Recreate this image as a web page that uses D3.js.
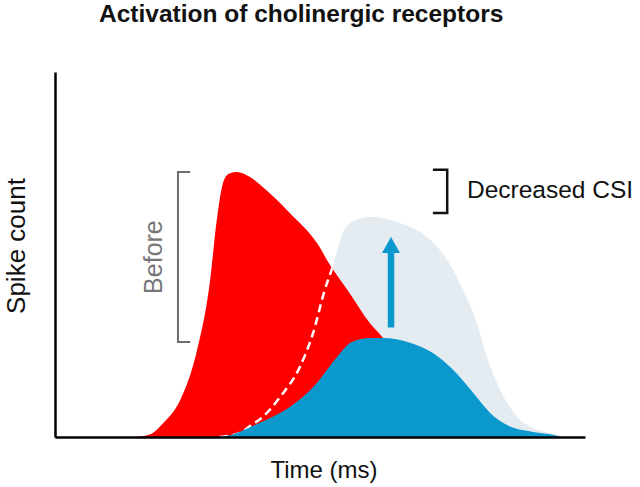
<!DOCTYPE html>
<html>
<head>
<meta charset="utf-8">
<script src="https://cdn.jsdelivr.net/npm/d3@7"></script>
<style>
  html, body { margin: 0; padding: 0; background: #fff; }
  svg { display: block; font-family: "Liberation Sans", Arial, sans-serif; }
</style>
</head>
<body>
<svg id="chart" width="640" height="487"></svg>
<script>
// ---- data (time in arbitrary units 0-100, spike count in arbitrary units 0-100) ----
const beforeTime  = [15.2, 17.9, 20.4, 23.6, 26.8, 29.2, 30.6, 31.7, 32.8, 34.3, 36.8, 39.2, 44.3, 49.4, 51.9, 55.7, 59.4, 61.9, 67.0, 72.6];
const beforeCount = [0, 0.7, 3.8, 10.1, 23.8, 42.2, 60.3, 69.6, 72.1, 72.6, 71.2, 68.5, 61.4, 53.2, 47.1, 39.2, 31.2, 27.1, 15.6, 0];

const afterTime  = [30.2, 33.0, 36.8, 40.6, 44.3, 49.4, 53.2, 56.0, 59.4, 61.9, 67.0, 71.3, 75.1, 78.9, 82.1, 85.3, 90.2, 94.3, 95.3];
const afterCount = [0, 0.5, 2.7, 5.2, 8.2, 14.8, 21.9, 26.0, 27.1, 27.1, 25.8, 23.0, 18.4, 12.1, 6.6, 3.3, 1.4, 0.5, 0];

const ghostTime  = [31.1, 34.9, 36.8, 39.2, 42.5, 46.2, 48.7, 50.9, 52.5, 54.3, 56.0, 57.9, 60.0, 65.1, 70.2, 74.0, 77.0, 79.6, 81.5, 84.0, 87.2, 90.2, 94.3, 96.2];
const ghostCount = [0, 1.1, 3.0, 5.5, 11.0, 19.2, 28.5, 40.3, 47.1, 55.9, 58.9, 60.0, 60.3, 58.6, 54.8, 48.5, 40.3, 31.2, 21.9, 12.9, 5.5, 2.5, 0.8, 0];

// annotations
const arrowTime = 63.4, arrowFrom = 30.0, arrowTo = 54.8;
const beforeBracketTime = [25.5, 23.2], beforeBracketRange = [26.0, 72.6];
const csiBracketTime = [71.3, 74.0], csiBracketRange = [61.4, 73.2];

const titleText = "Activation of cholinergic receptors";
const xLabel = "Time (ms)";
const yLabel = "Spike count";

// ---- drawing ----
const svg = d3.select("#chart");
const x = d3.scaleLinear().domain([0, 100]).range([55, 585]);
const y = d3.scaleLinear().domain([0, 100]).range([437, 72]);

const red = "#fe0000", blue = "#0a98cd", ghost = "#e4ecf2";

const zipPts = (t, c) => t.map((d, i) => [d, c[i]]);
const before = zipPts(beforeTime, beforeCount);
const after = zipPts(afterTime, afterCount);
const ghostPts = zipPts(ghostTime, ghostCount);

const area = d3.area().x(d => x(d[0])).y0(y(0)).y1(d => y(d[1])).curve(d3.curveMonotoneX);
const line = d3.line().x(d => x(d[0])).y(d => y(d[1])).curve(d3.curveMonotoneX);

// ghost (expected after) fill
svg.append("path").attr("d", area(ghostPts)).attr("fill", ghost);
// before (red)
svg.append("path").attr("d", area(before)).attr("fill", red);

// clip for dashed ghost edge inside red
svg.append("clipPath").attr("id", "redClip")
  .append("path").attr("d", area(before));
svg.append("path").attr("d", line(ghostPts))
  .attr("fill", "none").attr("stroke", "#ffffff").attr("stroke-width", 2.5)
  .attr("stroke-dasharray", "8,5").attr("clip-path", "url(#redClip)");

// after (blue)
svg.append("path").attr("d", area(after)).attr("fill", blue);

// arrow
const ax = x(arrowTime);
svg.append("line").attr("x1", ax).attr("x2", ax)
  .attr("y1", y(arrowFrom)).attr("y2", y(arrowTo) + 14)
  .attr("stroke", blue).attr("stroke-width", 6.5);
svg.append("path")
  .attr("d", `M${ax},${y(arrowTo)} L${ax - 9},${y(arrowTo) + 16} L${ax + 9},${y(arrowTo) + 16} Z`)
  .attr("fill", blue);

// axes (lines only)
svg.append("g").attr("transform", `translate(${x(0)},0)`)
  .call(d3.axisLeft(y).ticks(0).tickSizeOuter(0))
  .call(g => g.select(".domain").attr("stroke", "#000").attr("stroke-width", 2.5));
svg.append("g").attr("transform", `translate(0,${y(0)})`)
  .call(d3.axisBottom(x).ticks(0).tickSizeOuter(0))
  .call(g => g.select(".domain").attr("stroke", "#000").attr("stroke-width", 2.5));

// brackets
function bracket(tArr, range, color, width) {
  const [tTip, tBar] = tArr;
  const p = d3.path();
  p.moveTo(x(tTip), y(range[1]));
  p.lineTo(x(tBar), y(range[1]));
  p.lineTo(x(tBar), y(range[0]));
  p.lineTo(x(tTip), y(range[0]));
  svg.append("path").attr("d", p.toString()).attr("fill", "none")
    .attr("stroke", color).attr("stroke-width", width);
}
bracket(beforeBracketTime, beforeBracketRange, "#6e6e6e", 2);
bracket(csiBracketTime, csiBracketRange, "#111", 2.5);

// texts
svg.append("text").attr("x", 99).attr("y", 22)
  .attr("font-size", 24.5).attr("font-weight", "bold").attr("fill", "#111")
  .text(titleText);

svg.append("text").attr("x", 324).attr("y", 478).attr("text-anchor", "middle")
  .attr("font-size", 24).attr("fill", "#111").text(xLabel);

svg.append("text").attr("transform", "translate(25,246) rotate(-90)")
  .attr("text-anchor", "middle").attr("font-size", 26).attr("fill", "#111").text(yLabel);

svg.append("text").attr("transform", `translate(162,${(y(beforeBracketRange[0]) + y(beforeBracketRange[1])) / 2}) rotate(-90)`)
  .attr("text-anchor", "middle").attr("font-size", 25).attr("fill", "#777").text("Before");

svg.append("text").attr("x", 467).attr("y", 198)
  .attr("font-size", 24.5).attr("fill", "#111").text("Decreased CSI");
</script>
</body>
</html>
